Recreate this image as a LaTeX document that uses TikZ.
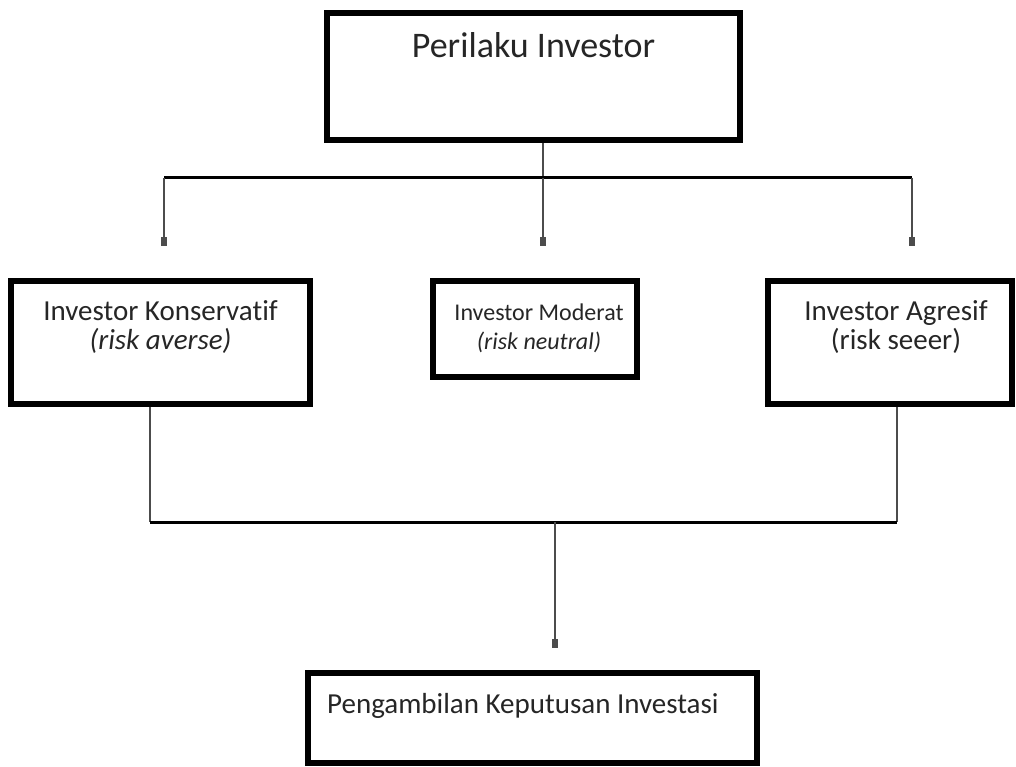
\documentclass[tikz,border=0pt]{standalone}
\usepackage{fontspec}
\setmainfont{Carlito}[Ligatures=NoCommon]
\usetikzlibrary{arrows.meta}
\begin{document}
\begin{tikzpicture}[x=1pt,y=-1pt,
  box/.style={draw=black,line width=6pt,minimum width=#1,inner sep=0pt,fill=white},
  lbl/.style={font=\fontsize{29}{34}\selectfont,text=black!85,inner sep=0pt,anchor=base,text height=19pt,text depth=5pt},
  small/.style={font=\fontsize{24}{28}\selectfont,text height=16pt,text depth=4pt},
  conn/.style={draw=black!70,line width=2.5pt},
  hline/.style={draw=black,line width=3pt},
  arr/.style={conn,-{Rectangle[length=9pt,width=5.5pt]}}]
\useasboundingbox (0,0) rectangle (1016,767);
% boxes (border path coordinates)
\node[box=413pt,minimum height=127pt] (top) at (533.5,76.5) {};
\node[box=299pt,minimum height=123pt] (kons) at (160.5,342.5) {};
\node[box=204pt,minimum height=96pt] (mod) at (535,329) {};
\node[box=244pt,minimum height=123pt] (agr) at (890,342.5) {};
\node[box=449pt,minimum height=90pt] (kep) at (532.5,718) {};
% texts
\node[lbl,font=\fontsize{36}{42}\selectfont,text height=26pt,text depth=7pt] (ttop) at (533.5,58) {Perilaku Investor};
\node[lbl] (tk1) at (160.5,320) {Investor Konservatif};
\node[lbl] (tk2) at (160.5,349) {\itshape (risk averse)};
\node[lbl,small] (tm1) at (539,320) {Investor Moderat};
\node[lbl,small] (tm2) at (539,349) {\itshape (risk neutral)};
\node[lbl] (ta1) at (896,320) {Investor Agresif};
\node[lbl] (ta2) at (896,349) {(risk seeer)};
\node[lbl,anchor=base west] (tkep) at (327,713) {Pengambilan Keputusan Investasi};
% junction coordinates
\coordinate (s1) at (543,143);
\coordinate (j0) at (543,178);
\coordinate (jl) at (164,178);
\coordinate (jr) at (912,178);
\coordinate (el) at (164,246);
\coordinate (em) at (543,246);
\coordinate (er) at (912,246);
\coordinate (bl) at (150,522);
\coordinate (br) at (897,522);
\coordinate (bm) at (555,522);
\coordinate (eb) at (555,648);
% connectors
\draw[conn] (s1) -- (j0);
\draw[hline] (jl) -- (jr);
\draw[arr] (jl) -- (el);
\draw[arr] (j0) -- (em);
\draw[arr] (jr) -- (er);
\draw[conn] (kons.south -| bl) -- (bl);
\draw[conn] (agr.south -| br) -- (br);
\draw[hline] (bl) -- (br);
\draw[arr] (bm) -- (eb);
\end{tikzpicture}
\end{document}
